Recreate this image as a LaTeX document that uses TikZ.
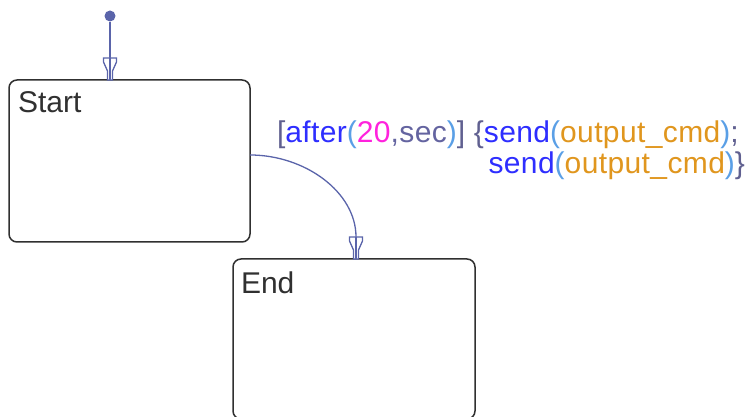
\documentclass[tikz,border=0pt]{standalone}
\usepackage{fontspec}
\setmainfont{Liberation Sans}
\newfontfamily\lblfont[LetterSpace=1.3]{Liberation Sans}
\usetikzlibrary{calc}
\definecolor{brk}{HTML}{606090}
\definecolor{kw}{HTML}{2E2EFF}
\definecolor{par}{HTML}{5A9FE6}
\definecolor{num}{HTML}{FF22DD}
\definecolor{secc}{HTML}{6464A0}
\definecolor{outc}{HTML}{E0961E}
\definecolor{connc}{HTML}{5A64AA}
\definecolor{boxc}{HTML}{303030}
\tikzset{
  statebox/.style={draw=boxc, line width=1.5pt, rounded corners=8pt, outer sep=0pt, inner sep=0pt},
  conn/.style={draw=connc, line width=1.3pt},
  lbl/.style={font=\fontsize{30}{31}\selectfont, inner sep=0pt, outer sep=0pt},
  tlbl/.style={font=\lblfont\fontsize{30}{31}\selectfont, inner sep=0pt, outer sep=0pt},
  funnel/.pic={
    \draw[conn, fill=white, line join=miter] (-6.5,22) -- (6.5,22) -- (6.5,18) -- (2.5,9) -- (2.5,0) -- (-2.5,0) -- (-2.5,9) -- (-6.5,18) -- cycle;
    \draw[conn] (0,22) -- (0,0);
  }
}
\begin{document}
\begin{tikzpicture}[x=1pt,y=1pt]
\useasboundingbox (0,0) rectangle (752,417);
\begin{scope}
\clip (0,0) rectangle (752,417);
% states
\node[statebox, minimum width=241pt, minimum height=162pt] (start) at (129.5,256) {};
\node[statebox, minimum width=242pt, minimum height=160pt] (end) at (354,78) {};
\end{scope}
\node[lbl, anchor=base west, text=boxc] (starttxt) at (18,304) {Start};
\node[lbl, anchor=base west, text=boxc] (endtxt) at (241,123) {End};
% default transition
\node[circle, fill=connc, inner sep=0pt, minimum size=11pt] (dot) at (110,401) {};
\coordinate (inittip) at ($(start.north)+(-19.5,0)$);
\draw[conn] (dot) -- (inittip);
\pic at (inittip) {funnel};
% transition Start -> End
\coordinate (tsrc) at ($(start.east)+(0,6)$);
\coordinate (ttip) at ($(end.north)+(2,0)$);
\coordinate (tend) at ($(ttip)+(0,22)$);
\draw[conn] (tsrc) .. controls ($(tsrc)+(55,0)$) and ($(tend)+(0,45)$) .. (tend);
\pic at (ttip) {funnel};
% transition label
\node[tlbl, anchor=base west] (lab1) at (277,274) {\textcolor{brk}{[}\textcolor{kw}{after}\textcolor{par}{(}\textcolor{num}{20}\textcolor{secc}{,sec}\textcolor{par}{)}\textcolor{brk}{]} \textcolor{brk}{\{}\textcolor{kw}{send}\textcolor{par}{(}\textcolor{outc}{output\_cmd}\textcolor{par}{)}\textcolor{brk}{;}};
\node[tlbl, anchor=base east] (lab2) at (745,243) {\textcolor{kw}{send}\textcolor{par}{(}\textcolor{outc}{output\_cmd}\textcolor{par}{)}\textcolor{brk}{\}}};
\end{tikzpicture}
\end{document}
